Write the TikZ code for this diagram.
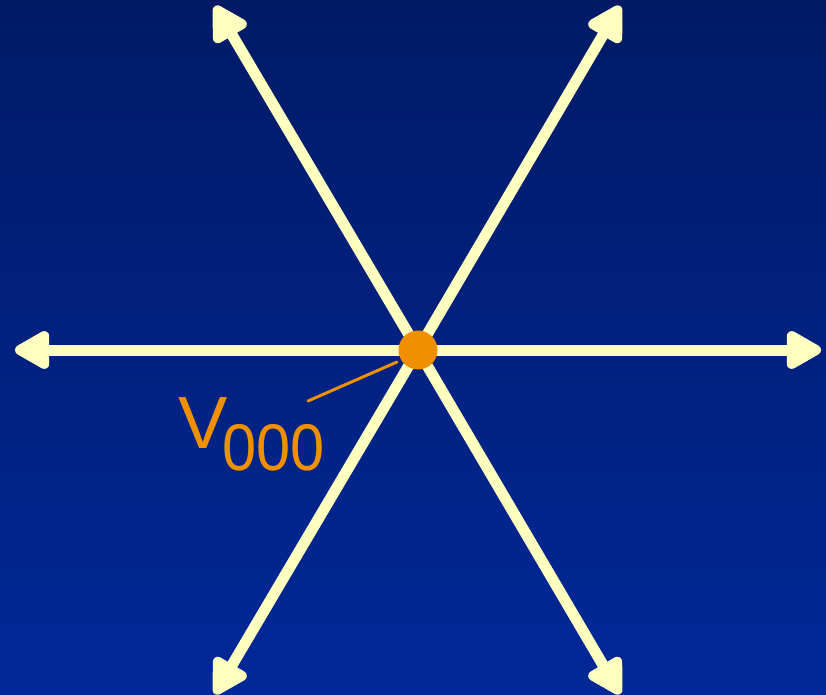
\documentclass[tikz,border=0pt]{standalone}
\usepackage{fontspec}
\setmainfont{Liberation Sans}
\usetikzlibrary{arrows.meta}
\definecolor{bgtop}{RGB}{0,26,102}
\definecolor{bgbot}{RGB}{0,40,152}
\definecolor{ray}{RGB}{255,255,192}
\definecolor{dotc}{RGB}{240,144,0}
\begin{document}
\begin{tikzpicture}[x=1pt,y=-1pt,
  raystyle/.style={draw=ray,line width=11pt,-{Triangle[length=40pt,width=42pt,round]}},
  dotstyle/.style={circle,fill=dotc,minimum size=39pt,inner sep=0pt}]
\useasboundingbox (0,0) rectangle (826,694);
\shade[top color=bgtop,bottom color=bgbot] (0,0) rectangle (826,694);
\coordinate (pl) at (15,350);
\coordinate (pr) at (821,350);
\coordinate (pul) at (215,6);
\coordinate (pur) at (620,6);
\coordinate (pll) at (215,694);
\coordinate (plr) at (620,694);
\coordinate (c0) at (418,350);
\foreach \p in {pl,pr,pul,pur,pll,plr}{
  \draw[raystyle] (c0) -- (\p);
}
\node[dotstyle] (c) at (c0) {};
\node[anchor=base west,inner sep=0pt,text=dotc] (lab) at (178,448)
  {\fontsize{74}{74}\selectfont V\kern-5pt\raisebox{-22pt}{\scalebox{0.93}[1]{\fontsize{66}{66}\selectfont 000}}};
\coordinate (lead) at (308,401);
\draw[dotc,line width=3pt,line cap=round] (lead) -- (397,362);
\end{tikzpicture}
\end{document}
